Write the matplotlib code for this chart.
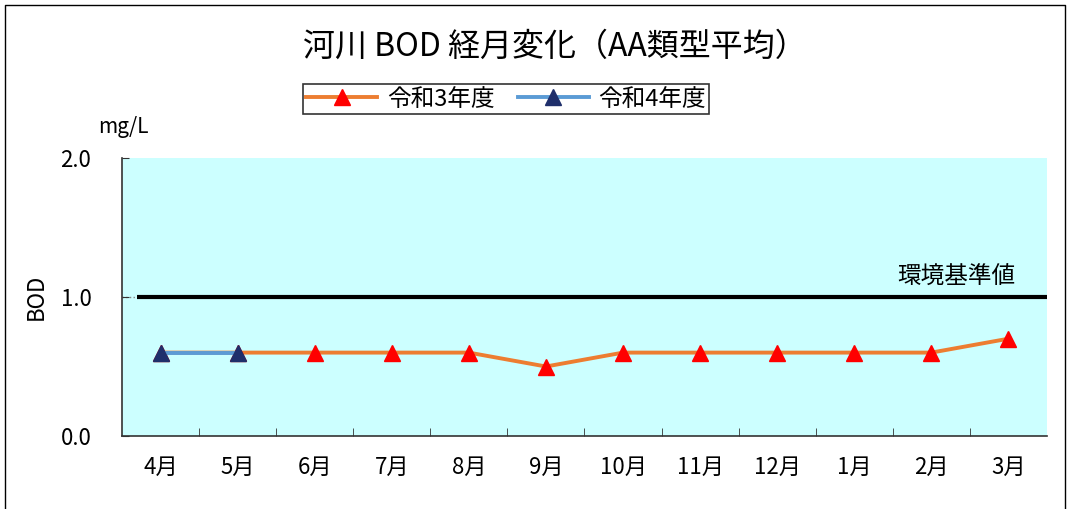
"""河川 BOD 経月変化 (AA類型平均) の折れ線グラフ."""

import matplotlib
matplotlib.use("Agg")
import matplotlib.pyplot as plt
import numpy as np
from matplotlib.lines import Line2D

plt.rcParams["font.family"] = ["Noto Sans CJK JP", "DejaVu Sans"]

MONTHS = ["4月", "5月", "6月", "7月", "8月", "9月", "10月", "11月", "12月", "1月", "2月", "3月"]
R3_VALUES = [0.6, 0.6, 0.6, 0.6, 0.6, 0.5, 0.6, 0.6, 0.6, 0.6, 0.6, 0.7]
R4_VALUES = [0.6, 0.6, None, None, None, None, None, None, None, None, None, None]
STANDARD = 1.0
Y_TICKS = [0.0, 1.0, 2.0]


def main() -> None:
    fig = plt.figure(figsize=(10.7, 5.09), dpi=100)
    ax = fig.add_axes([0.114, 0.1434, 0.8645, 0.5462])
    ax.set_facecolor("#CCFFFF")

    x = np.arange(len(MONTHS))
    r4 = np.array([np.nan if v is None else v for v in R4_VALUES])

    ax.plot([-0.3, 11.5], [STANDARD, STANDARD], color="black", lw=3, zorder=2,
            solid_capstyle="butt")
    ax.plot(x, R3_VALUES, color="#ED7D31", lw=2.8, marker="^", ms=11,
            mfc="#FF0000", mec="#FF0000", zorder=3)
    ax.plot(x, r4, color="#5B9BD5", lw=2.8, marker="^", ms=11,
            mfc="#1F2F6B", mec="#1F2F6B", zorder=4)

    ax.set_xlim(-0.5, len(MONTHS) - 0.5)
    ax.set_ylim(0, 2)
    ax.set_xticks(x)
    ax.set_xticklabels(MONTHS, fontsize=16)
    ax.set_xticks(np.arange(0.5, len(MONTHS) - 0.5), minor=True)
    ax.tick_params(axis="x", which="major", length=0, pad=14)
    ax.tick_params(axis="x", which="minor", length=6, direction="in", color="#333333")
    ax.set_yticks(Y_TICKS)
    ax.set_yticklabels([f"{v:.1f}" for v in Y_TICKS], fontsize=16)
    ax.tick_params(axis="y", which="major", length=5, direction="in", pad=22,
                   color="#333333")
    ax.axhline(STANDARD, xmax=0.02, color="#888888", lw=1, ls=":", zorder=1)

    for side in ("top", "right"):
        ax.spines[side].set_visible(False)
    for side in ("left", "bottom"):
        ax.spines[side].set_color("#333333")
        ax.spines[side].set_linewidth(1.2)

    ax.set_ylabel("BOD", fontsize=16)
    ax.yaxis.set_label_coords(-0.08, 0.5)
    ax.text(10.33, 1.06, "環境基準値", ha="center", va="bottom", fontsize=17)
    fig.text(0.115, 0.75, "mg/L", ha="center", va="center", fontsize=15)
    fig.text(0.519, 0.908, "河川 BOD 経月変化（AA類型平均）", ha="center", va="center",
             fontsize=23)

    handles = [
        Line2D([], [], color="#ED7D31", lw=2.8, marker="^", ms=11,
               mfc="#FF0000", mec="#FF0000"),
        Line2D([], [], color="#5B9BD5", lw=2.8, marker="^", ms=11,
               mfc="#1F2F6B", mec="#1F2F6B"),
    ]
    leg = fig.legend(handles, ["令和3年度", "令和4年度"], loc="center",
                     bbox_to_anchor=(0.473, 0.805), ncol=2, fontsize=17,
                     frameon=True, fancybox=False, edgecolor="black",
                     handlelength=3, columnspacing=1.0, borderpad=0.15,
                     handletextpad=0.4)
    leg.get_frame().set_linewidth(1.2)

    # outer frame (left, top, right)
    fl, fr, ft = 5 / 1070, 1065 / 1070, 1 - 5 / 509
    fig.add_artist(Line2D([fl, fl, fr, fr], [0, ft, ft, 0], color="black", lw=1,
                          transform=fig.transFigure))

    fig.savefig("out.png", dpi=100)


if __name__ == "__main__":
    main()
